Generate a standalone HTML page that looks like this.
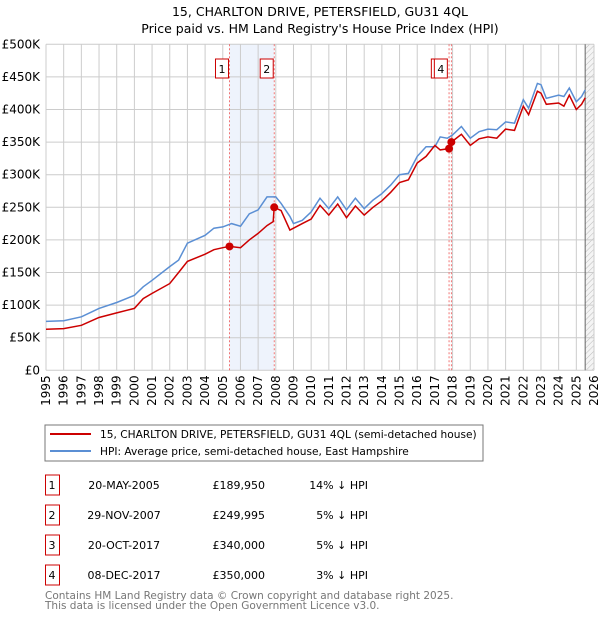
<!DOCTYPE html>
<html><head><meta charset="utf-8"><style>
body{margin:0;background:#fff;font-family:"Liberation Sans","DejaVu Sans",sans-serif;}
#wrap{position:relative;width:600px;height:620px;overflow:hidden;}
svg text{font-family:"DejaVu Sans","Liberation Sans",sans-serif;}
</style></head><body><div id="wrap">
<svg id="svg" width="600" height="620">
<text x="320" y="16" text-anchor="middle" font-size="12.5">15, CHARLTON DRIVE, PETERSFIELD, GU31 4QL</text>
<text x="320" y="33" text-anchor="middle" font-size="12.5">Price paid vs. HM Land Registry's House Price Index (HPI)</text>
<defs><pattern id="hatch" width="4" height="4" patternUnits="userSpaceOnUse" patternTransform="rotate(45)"><line x1="0" y1="0" x2="0" y2="4" stroke="#bbb" stroke-width="1"/></pattern></defs>
<g id="grid"></g><g id="marks"></g>
<rect x="45" y="425" width="438" height="36" fill="none" stroke="#777"/>
<line x1="50" y1="434" x2="91" y2="434" stroke="#cc0000" stroke-width="2"/>
<text x="100" y="438" font-size="10.6">15, CHARLTON DRIVE, PETERSFIELD, GU31 4QL (semi-detached house)</text>
<line x1="50" y1="451" x2="91" y2="451" stroke="#5b8fd4" stroke-width="2"/>
<text x="100" y="455" font-size="10.6">HPI: Average price, semi-detached house, East Hampshire</text>
<g id="table" font-size="11"></g>
<text x="45" y="599" font-size="10.5" fill="#777">Contains HM Land Registry data © Crown copyright and database right 2025.</text>
<text x="45" y="609" font-size="10.5" fill="#777">This data is licensed under the Open Government Licence v3.0.</text>
</svg></div>
<script>
const yTicks=[0,50000,100000,150000,200000,250000,300000,350000,400000,450000,500000];
const yTickLabels=["£0","£50K","£100K","£150K","£200K","£250K","£300K","£350K","£400K","£450K","£500K"];
const years=[1995,1996,1997,1998,1999,2000,2001,2002,2003,2004,2005,2006,2007,2008,2009,2010,2011,2012,2013,2014,2015,2016,2017,2018,2019,2020,2021,2022,2023,2024,2025,2026];
const hpiT=[1995,1996,1997,1998,1999,2000,2000.5,2001,2002,2002.5,2003,2004,2004.5,2005,2005.5,2006,2006.5,2007,2007.5,2008,2008.3,2008.8,2009,2009.5,2010,2010.5,2011,2011.5,2012,2012.5,2013,2013.5,2014,2014.5,2015,2015.5,2016,2016.5,2017,2017.3,2017.7,2018,2018.5,2019,2019.5,2020,2020.5,2021,2021.5,2022,2022.3,2022.8,2023,2023.3,2024,2024.3,2024.6,2025,2025.3,2025.5];
const hpiV=[75,76,82,95,104,115,128,138,159,169,195,207,218,220,225,221,240,246,266,266,256,236,225,230,243,264,248,266,246,264,248,261,271,284,300,302,328,343,343,358,356,361,374,356,366,370,369,381,379,415,402,440,438,417,422,420,433,412,420,430];
const priceT=[1995,1996,1997,1998,1999,2000,2000.5,2001,2002,2002.5,2003,2004,2004.5,2005,2005.38,2006,2006.5,2007,2007.5,2007.85,2007.91,2008.3,2008.8,2009,2009.5,2010,2010.5,2011,2011.5,2012,2012.5,2013,2013.5,2014,2014.5,2015,2015.5,2016,2016.5,2017,2017.3,2017.8,2017.93,2018.5,2019,2019.5,2020,2020.5,2021,2021.5,2022,2022.3,2022.8,2023,2023.3,2024,2024.3,2024.6,2025,2025.3,2025.5];
const priceV=[63,64,69,81,88,95,110,118,133,150,167,178,185,188,190,188,200,210,222,228,250,245,215,218,225,232,253,238,255,234,252,238,250,260,273,288,292,318,328,345,338,340,350,362,345,355,358,356,370,368,405,392,428,425,408,410,405,422,400,408,418];
const saleLabels=["1","2","3","4"];
const saleT=[2005.38,2007.91,2017.80,2017.93];
const saleV=[189950,249995,340000,350000];
const saleDates=["20-MAY-2005","29-NOV-2007","20-OCT-2017","08-DEC-2017"];
const salePrices=["£189,950","£249,995","£340,000","£350,000"];
const saleHpi=["14% ↓ HPI","5% ↓ HPI","5% ↓ HPI","3% ↓ HPI"];
const X0=46,X1=594,Y0=370.3,Y1=44.3;
const xs=t=>X0+(t-1995)/31*(X1-X0);
const ys=v=>Y0-v/500000*(Y0-Y1);
const NS="http://www.w3.org/2000/svg";
function mk(tag,attrs,parent){const e=document.createElementNS(NS,tag);for(const k in attrs)e.setAttribute(k,attrs[k]);parent.appendChild(e);return e;}
const g=document.getElementById('grid'),m=document.getElementById('marks'),tb=document.getElementById('table');
let r=mk('rect',{x:xs(saleT[0]),y:Y1,width:xs(saleT[1])-xs(saleT[0]),height:Y0-Y1,fill:'#eef3fc'},g);


r=mk('rect',{x:xs(2025.5),y:Y1,width:X1-xs(2025.5),height:Y0-Y1,fill:'#f4f4f4'},g);
r=mk('rect',{x:xs(2025.5),y:Y1,width:X1-xs(2025.5),height:Y0-Y1,fill:'url(#hatch)'},g);


yTicks.forEach((v,i)=>{mk('line',{x1:X0,x2:X1,y1:ys(v),y2:ys(v),stroke:'#ccc'},g);
 const t=mk('text',{x:X0-6,y:ys(v)+4,'text-anchor':'end','font-size':12},g);t.textContent=yTickLabels[i];
 
 });
years.forEach(yr=>{mk('line',{x1:xs(yr),x2:xs(yr),y1:Y1,y2:Y0,stroke:'#ccc'},g);
 const t=mk('text',{x:0,y:0,'text-anchor':'end','font-size':12,transform:`translate(${xs(yr)+4},${Y0+5}) rotate(-90)`},g);t.textContent=yr;
 
 });
mk('line',{x1:xs(2025.5),x2:xs(2025.5),y1:Y1,y2:Y0,stroke:'#666'},g);
saleT.forEach((t,i)=>{const l=mk('line',{x1:xs(t),x2:xs(t),y1:Y1,y2:Y0,stroke:'#e55','stroke-dasharray':'2,2','stroke-width':0.8},g);
 
 });
function path(T,V,col,name){const d=T.map((t,i)=>(i?'L':'M')+xs(t).toFixed(1)+','+ys(V[i]*1000).toFixed(1)).join('');
 const p=mk('path',{d:d,fill:'none',stroke:col,'stroke-width':1.5},m);
 
 }
path(hpiT,hpiV,'#5b8fd4','hpi-line');
path(priceT,priceV,'#cc0000','price-line');
saleT.forEach((t,i)=>{const c=mk('circle',{cx:xs(t),cy:ys(saleV[i]),r:4,fill:'#cc0000'},m);
 
 
 if(i!==2){const bx=xs(t)-(i===3?3:0)-14;
  const b=mk('rect',{x:bx,y:59,width:13,height:19,fill:'#fff',stroke:'#cc0000'},m);
  
  
  const tx=mk('text',{x:bx+6.5,y:73,'text-anchor':'middle','font-size':11},m);tx.textContent=saleLabels[i];
  
  }
 else{const b=mk('rect',{x:xs(saleT[3])-20,y:59,width:13,height:19,fill:'#fff',stroke:'#cc0000'},m);
  
  }
 const y=475+i*30;
 const b2=mk('rect',{x:45.5,y:y,width:14,height:20,fill:'none',stroke:'#cc0000'},tb);
 
 
 const cells=[[52,'middle',saleLabels[i]],[124,'middle',saleDates[i]],[265,'end',salePrices[i]],[368,'end',saleHpi[i]]];
 cells.forEach(c=>{const tt=mk('text',{x:c[0],y:y+14,'text-anchor':c[1]},tb);tt.textContent=c[2];
  
  });
});
</script></body></html>
